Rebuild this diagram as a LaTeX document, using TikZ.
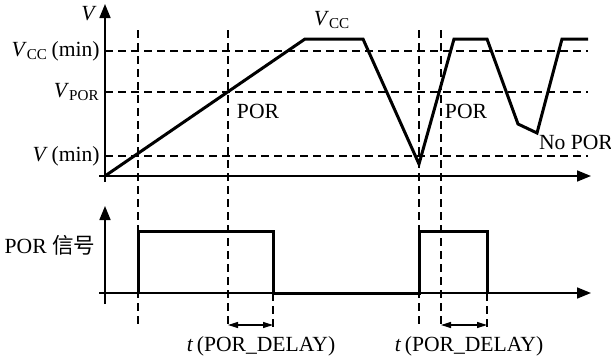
\documentclass[tikz,border=0pt]{standalone}
\usepackage{fontspec}
\setmainfont{Liberation Serif}
\newfontfamily\cjk{Noto Sans CJK SC}
\usetikzlibrary{arrows.meta}
\tikzstyle{axis}=[draw,line width=0.8pt,-{Triangle[length=7pt,width=5.5pt]}]
\tikzstyle{wave}=[draw,line width=1.5pt,line join=miter]
\tikzstyle{guide}=[draw,line width=0.6pt,dash pattern=on 4pt off 2.5pt]
\tikzstyle{delay}=[draw,line width=0.6pt,{Triangle[length=5pt,width=3pt]}-{Triangle[length=5pt,width=3pt]}]
\tikzstyle{lbl}=[font=\fontsize{10.8}{12}\selectfont,inner sep=0pt]

\begin{document}
\begin{tikzpicture}[x=0.5pt,y=-0.5pt]
        \useasboundingbox (0,0) rectangle (611,359);
        % voltage plot
        \coordinate (o1) at (105,176);
        \coordinate (yt1) at (105,4);
        \coordinate (xe1) at (591,176);
        \coordinate (ys1) at (105,182);
        \coordinate (xs1) at (99,176);
        % levels
        \coordinate (vcc0) at (105,51);  \coordinate (vcc1) at (588,51);
        \coordinate (vpor0) at (105,92); \coordinate (vpor1) at (588,92);
        \coordinate (vmin0) at (105,156); \coordinate (vmin1) at (588,156);
        % waveform points
        \coordinate (w1) at (305,39);
        \coordinate (w2) at (363,39);
        \coordinate (w3) at (419,164);
        \coordinate (w4) at (454,39);
        \coordinate (w5) at (487,39);
        \coordinate (w6) at (518,124);
        \coordinate (w7) at (537,133);
        \coordinate (w8) at (562,39);
        \coordinate (w9) at (588,39);
        % POR signal plot
        \coordinate (o2) at (105,293);
        \coordinate (yt2) at (105,206);
        \coordinate (ys2) at (105,304);
        \coordinate (xs2) at (99,293);
        \coordinate (xe2) at (591,293);
        \coordinate (p1) at (138,293); \coordinate (p2) at (138,231);
        \coordinate (p3) at (273,231); \coordinate (p4) at (273,293);
        \coordinate (p5) at (419,293); \coordinate (p6) at (419,231);
        \coordinate (p7) at (487,231); \coordinate (p8) at (487,293);
        % timing marks
        \coordinate (t1a) at (138,30);  \coordinate (t1b) at (138,328);
        \coordinate (t2a) at (228,30);  \coordinate (t2b) at (228,328);
        \coordinate (t3a) at (419,30);  \coordinate (t3b) at (419,328);
        \coordinate (t4a) at (441,30);  \coordinate (t4b) at (441,328);
        \coordinate (t5b) at (273,328);
        \coordinate (t6b) at (487,328);
        \coordinate (d1a) at (228,325); \coordinate (d1b) at (273,325);
        \coordinate (d2a) at (441,325); \coordinate (d2b) at (487,325);

        \path[guide] (vcc0) -- (vcc1);
        \path[guide] (vpor0) -- (vpor1);
        \path[guide] (vmin0) -- (vmin1);
        \path[guide] (t1a) -- (t1b);
        \path[guide] (t2a) -- (t2b);
        \path[guide] (t3a) -- (t3b);
        \path[guide] (t4a) -- (t4b);
        \path[guide] (p4) -- (t5b);
        \path[guide] (p8) -- (t6b);

        \path[axis] (ys1) -- (yt1);
        \path[axis] (xs1) -- (xe1);
        \path[axis] (ys2) -- (yt2);
        \path[axis] (xs2) -- (xe2);

        \path[wave] (o1) -- (w1) -- (w2) -- (w3) -- (w4) -- (w5) -- (w6) -- (w7) -- (w8) -- (w9);
        \path[wave] (p1) -- (p2) -- (p3) -- (p4) -- (p5) -- (p6) -- (p7) -- (p8);

        \path[delay] (d1a) -- (d1b);
        \path[delay] (d2a) -- (d2b);

        \node[lbl] (lv) at (89,14) {\textit{V}};
        \node[lbl,anchor=east] (lvcc) at (100,51) {\textit{V}\textsubscript{CC}\,(min)};
        \node[lbl,anchor=east] (lvpor) at (100,92) {\textit{V}\textsubscript{POR}};
        \node[lbl,anchor=east] (lvmin) at (100,156) {\textit{V}\,(min)};
        \node[lbl] (lvcctop) at (332,20) {\textit{V}\textsubscript{CC}};
        \node[lbl] (lpor1) at (258,111) {POR};
        \node[lbl] (lpor2) at (466,111) {POR};
        \node[lbl] (lnopor) at (576,142) {No POR};
        \node[lbl] (lsig) at (50,245) {POR {\cjk 信号}};
        \node[lbl] (ld1) at (261,346) {\textit{t}\,(POR\_DELAY)};
        \node[lbl] (ld2) at (469,346) {\textit{t}\,(POR\_DELAY)};
    \end{tikzpicture}
\end{document}
